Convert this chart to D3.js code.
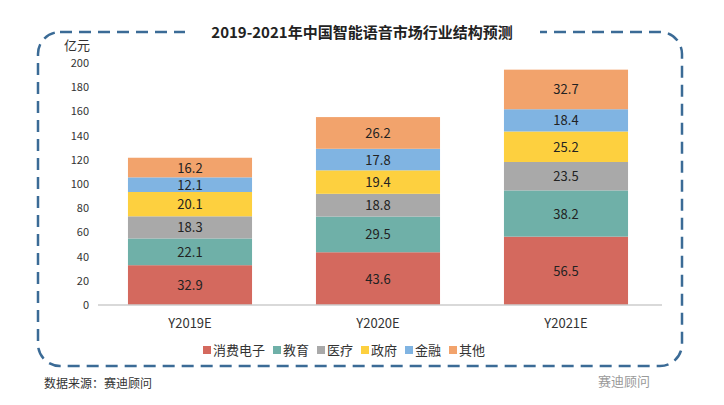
<!DOCTYPE html>
<html><head><meta charset="utf-8">
<script src="https://cdn.jsdelivr.net/npm/d3@7"></script>
<style>body{margin:0;background:#fff}text{font-family:"Noto Sans CJK SC","Noto Sans",sans-serif}</style>
</head><body><svg id="c" width="724" height="405"></svg>
<script>
const categories=["Y2019E","Y2020E","Y2021E"];
const seriesNames=["消费电子","教育","医疗","政府","金融","其他"];
const colors=["#d4695e","#6fb0a8","#a9a9a9","#fdd03f","#80b4e2","#f2a36c"];
const consumer=[32.9,43.6,56.5];
const education=[22.1,29.5,38.2];
const medical=[18.3,18.8,23.5];
const government=[20.1,19.4,25.2];
const finance=[12.1,17.8,18.4];
const other=[16.2,26.2,32.7];
const yTicks=[0,20,40,60,80,100,120,140,160,180,200];
const vals=[consumer,education,medical,government,finance,other];
const svg=d3.select("#c");
svg.append("rect").attr("x",38).attr("y",32).attr("width",644).attr("height",334).attr("rx",22)
 .attr("fill","none").attr("stroke","#3b6b96").attr("stroke-width",2.5).attr("stroke-dasharray","12,7");
svg.append("rect").attr("x",185).attr("y",20).attr("width",355).attr("height",24).attr("fill","#fff");
svg.append("text").attr("x",362).attr("y",38).attr("text-anchor","middle").attr("font-size",15).attr("font-weight","bold").attr("fill","#222").text("2019-2021年中国智能语音市场行业结构预测");
const x=d3.scaleBand().domain(categories).range([96,660]).paddingInner(0.34).paddingOuter(0.17);
const y=d3.scaleLinear().domain([0,200]).range([305,63]);
const rows=categories.map((c,i)=>{const o={cat:c};seriesNames.forEach((s,j)=>o[s]=vals[j][i]);return o;});
const stack=d3.stack().keys(seriesNames)(rows);
stack.forEach((layer,j)=>{
 const g=svg.append("g");
 g.selectAll("rect").data(layer).join("rect").attr("x",d=>x(d.data.cat)).attr("width",x.bandwidth())
  .attr("y",d=>y(d[1])).attr("height",d=>y(d[0])-y(d[1])).attr("fill",colors[j]);
 g.selectAll("text").data(layer).join("text").attr("x",d=>x(d.data.cat)+x.bandwidth()/2)
  .attr("y",d=>(y(d[0])+y(d[1]))/2+5).attr("text-anchor","middle").attr("font-size",13).attr("fill","#222")
  .text(d=>d.data[layer.key].toFixed(1));
});
svg.append("line").attr("x1",98).attr("x2",662).attr("y1",305).attr("y2",305).attr("stroke","#ccc").attr("stroke-width",1.5);
const ya=svg.append("g").attr("transform","translate(92,0)").call(d3.axisLeft(y).tickValues(yTicks).tickSize(0));
ya.select(".domain").remove();
ya.selectAll("text").attr("font-size",11).attr("fill","#333").attr("font-family","Noto Sans");
const xa=svg.append("g").attr("transform","translate(0,305)").call(d3.axisBottom(x).tickSize(0).tickPadding(14));
xa.select(".domain").remove();
xa.selectAll("text").attr("font-size",13).attr("fill","#333").attr("font-family","Noto Sans");
svg.append("text").attr("x",64).attr("y",50).attr("font-size",13).attr("fill","#333").text("亿元");
const lg=svg.append("g");
let lx=203;
seriesNames.forEach((s,j)=>{
 lg.append("rect").attr("x",lx).attr("y",346).attr("width",8).attr("height",8).attr("fill",colors[j]);
 lg.append("text").attr("x",lx+10).attr("y",355).attr("font-size",13).attr("fill","#333").text(s);
 lx+=10+s.length*13+8;
});
svg.append("text").attr("x",44).attr("y",388).attr("font-size",12).attr("fill","#333").text("数据来源：赛迪顾问");
svg.append("text").attr("x",598).attr("y",386).attr("font-size",13).attr("fill","#999").text("赛迪顾问");
</script></body></html>
